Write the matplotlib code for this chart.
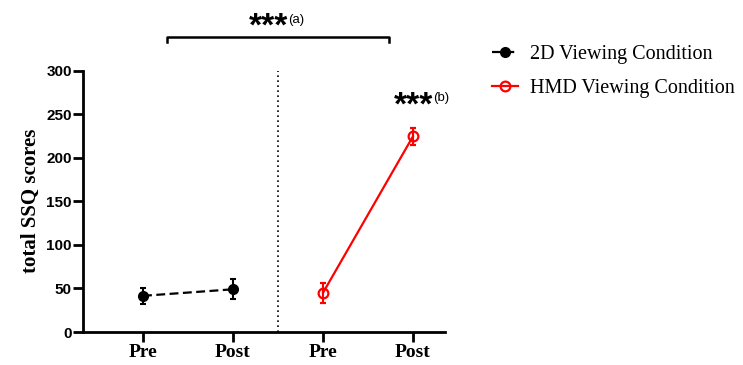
import numpy as np
import matplotlib
matplotlib.use("Agg")
import matplotlib.pyplot as plt
from matplotlib.lines import Line2D

# SSQ-Werte (Mittelwert +/- Fehler) vor/nach der Exposition
x_labels = ["Pre", "Post", "Pre", "Post"]
pos_2d = [1, 2]
pos_hmd = [3, 4]
mean_2d = [41.5, 49.0]
err_2d = [9.5, 11.5]
mean_hmd = [45.0, 224.5]
err_hmd = [11.5, 10.0]

y_ticks = [0, 50, 100, 150, 200, 250, 300]

SERIF = "Liberation Serif"
SANS = "Liberation Sans"

fig = plt.figure(figsize=(7.43, 3.65), dpi=100)
ax = fig.add_axes([83 / 743, 1 - 332 / 365, (445 - 83) / 743, (332 - 70.5) / 365])

ax.errorbar(pos_2d, mean_2d, yerr=err_2d, color="black", ls=(0, (4, 2)), lw=1.6,
            marker="o", ms=7, capsize=2.5, elinewidth=1.5, capthick=1.5,
            clip_on=False, zorder=3)
ax.errorbar(pos_hmd, mean_hmd, yerr=err_hmd, color="red", ls="-", lw=1.6,
            marker="o", ms=7, mfc="none", mew=1.6, capsize=2.5, elinewidth=1.5,
            capthick=1.5, clip_on=False, zorder=3)

# Trennlinie zwischen den Bedingungen
ax.axvline(2.5, color="black", ls=(0, (1, 2)), lw=1.2)

ax.set_xlim(1 - 60 / 90, 4 + 32 / 90)
ax.set_ylim(0, 300)
ax.set_yticks(y_ticks)
ax.set_xticks([1, 2, 3, 4])
ax.set_xticklabels(x_labels, fontfamily=SERIF, fontweight="bold", fontsize=14)
for t in ax.get_yticklabels():
    t.set_fontfamily(SANS)
    t.set_fontweight("bold")
    t.set_fontsize(11)
ax.set_ylabel("total SSQ scores", fontfamily=SERIF, fontweight="bold", fontsize=15,
              labelpad=4)

for s in ["top", "right"]:
    ax.spines[s].set_visible(False)
for s in ["left", "bottom"]:
    ax.spines[s].set_linewidth(2)
ax.tick_params(width=2, length=7)
ax.tick_params(axis="y", pad=1)
ax.tick_params(axis="x", pad=1.5)

# Signifikanz-Klammer oben
y_br = 338.5
ax.plot([1.27, 1.27, 3.73, 3.73], [y_br - 6, y_br, y_br, y_br - 6], color="black",
        lw=1.8, clip_on=False)
ax.text(2.61, 350, "***", ha="right", va="center", fontfamily=SANS, fontweight="bold",
        fontsize=24, clip_on=False)
ax.text(2.61, 357.5, "(a)", ha="left", va="center", fontfamily=SANS, fontsize=9.5,
        clip_on=False)
ax.text(4.22, 259.5, "***", ha="right", va="center", fontfamily=SANS, fontweight="bold",
        fontsize=24, clip_on=False)
ax.text(4.22, 268, "(b)", ha="left", va="center", fontfamily=SANS, fontsize=9.5,
        clip_on=False)

handles = [
    Line2D([], [], color="black", ls=(0, (4, 2)), lw=1.6, marker="o", ms=7),
    Line2D([], [], color="red", ls="-", lw=1.6, marker="o", ms=7, mfc="none", mew=1.6),
]
ax.legend(handles, ["2D Viewing Condition", "HMD Viewing Condition"],
          loc="upper left", bbox_to_anchor=(492 / 743, 1 - 45 / 365),
          bbox_transform=fig.transFigure, frameon=False,
          prop={"family": SERIF, "size": 14.5}, handlelength=1.3,
          handletextpad=0.6, labelspacing=0.75, borderpad=0, borderaxespad=0)

fig.savefig("out.png", dpi=100)
